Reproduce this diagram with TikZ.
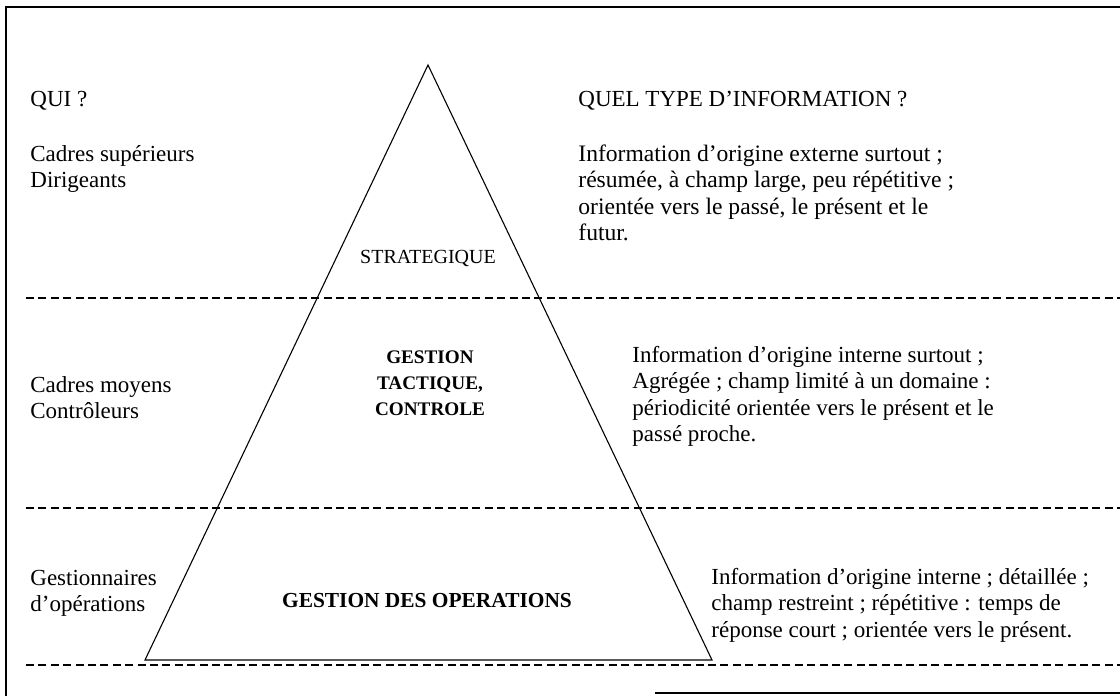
\documentclass[tikz,border=0pt]{standalone}
\usepackage{fontspec}
\setmainfont{Liberation Serif}
\begin{document}
\begin{tikzpicture}[x=0.5pt,y=-0.5pt,
  frame/.style={line width=0.9pt},
  level/.style={dash pattern=on 4pt off 2.2pt, line width=0.6pt},
  pyr/.style={line width=0.55pt, line join=miter},
  txt/.style={anchor=base west, inner sep=0pt, font=\fontsize{11.5}{13.3}\selectfont},
  tier/.style={anchor=base, inner sep=0pt},
]
\useasboundingbox (0,0) rectangle (1120,696);

% outer frame (top, left, and the remaining piece of the bottom edge)
\coordinate (ftl) at (6,7);
\coordinate (ftr) at (1120,7);
\coordinate (fbl) at (6,696);
\coordinate (fbw) at (655,693);
\coordinate (fbe) at (1120,693);
\draw[frame] (ftr) -- (ftl) -- (fbl);
\draw[frame] (fbw) -- (fbe);

% level separators
\coordinate (s1w) at (26,298);  \coordinate (s1e) at (1120,298);
\coordinate (s2w) at (26,508);  \coordinate (s2e) at (1120,508);
\coordinate (s3w) at (26,665);  \coordinate (s3e) at (1120,665);
\draw[level] (s1w) -- (s1e);
\draw[level] (s2w) -- (s2e);
\draw[level] (s3w) -- (s3e);

% pyramid
\coordinate (apex) at (428,65);
\coordinate (baseL) at (145,660);
\coordinate (baseR) at (712,660);
\draw[pyr] (apex) -- (baseR) -- (baseL) -- cycle;

% column headings
\node[txt] (qui) at (30,106) {QUI ?};
\node[txt] (quel) at (578,106) {QUEL TYPE D’INFORMATION ?};

% who
\node[txt] (who1) at (30,161) {\begin{tabular}[t]{@{}l@{}}Cadres supérieurs\\Dirigeants\end{tabular}};
\node[txt] (who2) at (30,392) {\begin{tabular}[t]{@{}l@{}}Cadres moyens\\Contrôleurs\end{tabular}};
\node[txt] (who3) at (30,585) {\begin{tabular}[t]{@{}l@{}}Gestionnaires\\d’opérations\end{tabular}};

% pyramid tiers
\node[tier, font=\fontsize{10}{13}\selectfont] (t1) at (428,263) {STRATEGIQUE};
\node[tier, font=\fontsize{9.6}{13}\selectfont\bfseries] (t2) at (430,363)
  {\begin{tabular}[t]{@{}c@{}}GESTION\\TACTIQUE,\\CONTROLE\end{tabular}};
\node[tier, font=\fontsize{10.7}{13}\selectfont\bfseries] (t3) at (427,607) {GESTION DES OPERATIONS};

% type of information
\node[txt, font=\fontsize{11.8}{13.3}\selectfont] (info1) at (578,161) {\begin{tabular}[t]{@{}l@{}}Information d’origine externe surtout ;\\résumée, à champ large, peu répétitive ;\\orientée vers le passé, le présent et le\\futur.\end{tabular}};
\node[txt] (info2) at (632,362) {\begin{tabular}[t]{@{}l@{}}Information d’origine interne surtout ;\\Agrégée ; champ limité à un domaine :\\périodicité orientée vers le présent et le\\passé proche.\end{tabular}};
\node[txt] (info3) at (711,584) {\begin{tabular}[t]{@{}l@{}}Information d’origine interne ; détaillée ;\\champ restreint ; répétitive : temps de\\réponse court ; orientée vers le présent.\end{tabular}};
\end{tikzpicture}
\end{document}
